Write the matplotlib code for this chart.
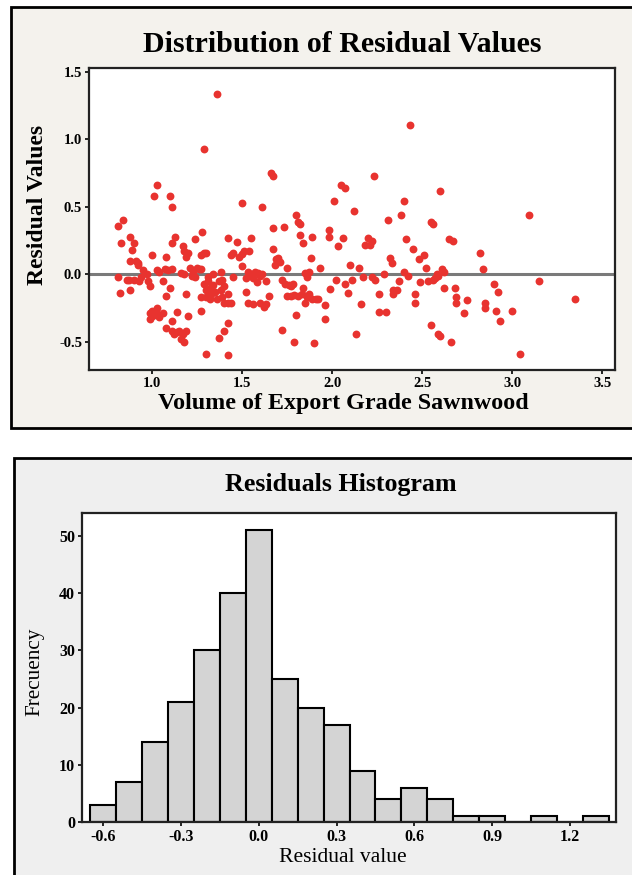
import matplotlib
matplotlib.use("Agg")
import matplotlib.pyplot as plt
from matplotlib.patches import Rectangle

plt.rcParams['font.family'] = ['Liberation Serif', 'DejaVu Serif']

# --- scatter: volume vs residual ---
volume = [
    0.81, 0.84, 0.83, 0.88, 0.90, 0.89, 0.88, 0.91, 0.92, 0.81, 0.87, 0.90, 0.93, 0.82, 0.88, 0.97, 1.00, 0.98, 0.99, 1.00,
    1.01, 0.99, 1.03, 1.01, 1.03, 1.10, 1.11, 1.04, 1.06, 1.08, 1.08, 1.10, 1.07, 1.11, 1.11, 1.13, 1.06, 1.08, 1.11, 1.11,
    1.14, 1.17, 1.18, 1.19, 1.20, 1.18, 1.19, 1.20, 1.17, 1.18, 1.15, 1.19, 1.24, 1.23, 1.24, 1.25, 1.27, 1.28, 1.29, 1.30,
    1.27, 1.27, 1.27, 1.29, 1.36, 1.29, 1.30, 1.32, 1.31, 1.30, 1.33, 1.34, 1.37, 1.38, 1.38, 1.32, 1.39, 1.40, 1.42, 1.44,
    1.37, 1.40, 1.42, 1.30, 1.42, 1.42, 1.44, 1.45, 1.47, 1.48, 1.50, 1.50, 1.51, 1.52, 1.54, 1.55, 1.53, 1.56, 1.53, 1.55,
    1.58, 1.61, 1.60, 1.62, 1.63, 1.61, 1.63, 1.65, 1.66, 1.67, 1.67, 1.67, 1.69, 1.70, 1.68, 1.72, 1.73, 1.72, 1.75, 1.75,
    1.76, 1.78, 1.79, 1.80, 1.81, 1.82, 1.82, 1.81, 1.80, 1.84, 1.85, 1.86, 1.84, 1.85, 1.88, 1.89, 1.87, 1.89, 1.90, 1.92,
    1.93, 1.96, 1.96, 1.98, 1.98, 1.99, 2.01, 2.02, 2.03, 2.05, 2.07, 2.06, 2.07, 2.09, 2.10, 2.12, 2.11, 2.13, 2.15, 2.16,
    2.17, 2.18, 2.20, 2.21, 2.23, 2.22, 2.24, 2.26, 2.26, 2.29, 2.30, 2.31, 2.32, 2.33, 2.34, 2.36, 2.37, 2.38, 2.40, 2.41,
    2.40, 2.42, 2.43, 2.45, 2.46, 2.46, 2.48, 2.49, 2.51, 2.52, 2.55, 2.55, 2.56, 2.56, 2.58, 2.59, 2.60, 2.60, 2.61, 2.62,
    2.65, 2.67, 2.66, 2.68, 2.69, 2.69, 2.73, 2.75, 2.82, 2.84, 2.85, 2.85, 2.90, 2.92, 2.91, 2.93, 3.00, 3.04, 3.09, 3.15,
    3.35,
    1.00, 1.02, 0.99, 1.04, 1.12, 1.14, 1.16, 0.95, 0.86, 0.92, 1.03, 1.09, 1.16, 1.22, 1.33, 1.35, 1.40, 1.36, 1.42, 1.31,
    1.39, 1.34, 1.57, 1.52, 1.77, 1.79, 1.83, 1.86, 1.91, 1.56, 1.59, 1.60, 1.74, 1.77, 1.87, 1.71, 1.45, 1.50, 2.22, 2.34,
    2.53, 2.57, 2.59, 2.62, 1.26, 1.21, 0.94,
]
residual = [
    0.36, 0.40, 0.23, 0.28, 0.23, 0.18, 0.10, 0.10, 0.07, -0.02, -0.04, -0.04, -0.05, -0.14, -0.12, 0.00, 0.145, -0.05, -0.09, -0.27,
    -0.30, -0.29, -0.25, 0.58, 0.66, 0.58, 0.50, 0.02, -0.05, -0.16, 0.13, -0.10, 0.04, 0.04, 0.23, 0.28, -0.29, -0.40, -0.35, -0.42,
    -0.28, 0.21, 0.17, 0.13, 0.16, 0.00, -0.145, -0.31, -0.44, -0.50, -0.42, -0.42, 0.26, 0.02, -0.02, 0.05, 0.145, 0.31, 0.16, 0.16,
    0.04, -0.17, -0.27, 0.93, 1.34, -0.07, -0.12, -0.10, -0.05, -0.17, -0.145, -0.08, -0.05, -0.12, 0.02, -0.18, -0.17, -0.21, -0.21, -0.21,
    -0.47, -0.42, -0.36, -0.59, -0.60, 0.27, 0.145, -0.02, 0.24, 0.13, 0.06, 0.53, 0.17, -0.13, 0.17, 0.27, -0.21, -0.22, 0.02, 0.00,
    -0.06, 0.50, -0.21, -0.24, -0.22, 0.00, -0.05, -0.16, 0.75, 0.73, 0.34, 0.19, 0.11, 0.12, 0.07, -0.04, 0.35, -0.41, 0.05, -0.16,
    -0.08, -0.07, -0.50, 0.44, 0.39, 0.37, 0.29, -0.16, -0.30, 0.23, 0.01, -0.02, -0.10, -0.21, 0.12, 0.28, -0.145, -0.18, -0.51, -0.18,
    0.05, -0.23, -0.33, 0.33, 0.28, -0.11, 0.545, -0.04, 0.21, 0.665, 0.64, 0.27, -0.07, -0.14, 0.07, 0.47, -0.04, -0.44, 0.05, -0.22,
    -0.02, 0.22, 0.27, 0.22, 0.73, -0.02, -0.04, -0.145, -0.28, 0.00, -0.28, 0.40, 0.12, 0.085, -0.145, -0.12, -0.05, 0.44, 0.545, 0.26,
    0.02, -0.01, 1.11, 0.19, -0.145, -0.21, 0.11, -0.06, 0.145, 0.05, -0.375, 0.39, 0.375, -0.04, 0.00, -0.44, -0.455, 0.62, 0.04, -0.10,
    0.26, 0.25, -0.50, -0.10, -0.17, -0.21, -0.29, -0.19, 0.16, 0.04, -0.21, -0.25, -0.07, -0.13, -0.27, -0.35, -0.27, -0.59, 0.44, -0.05,
    -0.18,
    -0.31, -0.28, -0.33, -0.32, -0.44, -0.43, -0.48, 0.03, -0.04, 0.08, 0.03, 0.03, 0.01, -0.01, -0.10, -0.13, -0.09, -0.18, -0.15, -0.02,
    -0.04, 0.00, 0.02, -0.03, -0.16, -0.155, -0.15, -0.17, -0.18, -0.03, 0.01, -0.01, -0.07, -0.09, 0.02, 0.09, 0.16, 0.15, 0.25, -0.12,
    -0.05, -0.03, -0.01, 0.02, 0.04, 0.05, -0.02,
]

# --- histogram of residuals (bin centers, width 0.1) ---
bin_centers = [-0.6, -0.5, -0.4, -0.3, -0.2, -0.1, 0.0, 0.1, 0.2, 0.3,
               0.4, 0.5, 0.6, 0.7, 0.8, 0.9, 1.0, 1.1, 1.2, 1.3]
counts = [3, 7, 14, 21, 30, 40, 51, 25, 20, 17,
          9, 4, 6, 4, 1, 1, 0, 1, 0, 1]

scatter_xticks = [1.0, 1.5, 2.0, 2.5, 3.0, 3.5]
scatter_yticks = [-0.5, 0.0, 0.5, 1.0, 1.5]
hist_xticks = [-0.6, -0.3, 0.0, 0.3, 0.6, 0.9, 1.2]
hist_yticks = [0, 10, 20, 30, 40, 50]

W, H = 632, 875
fig = plt.figure(figsize=(W / 100, H / 100), dpi=100)
fig.patch.set_facecolor('white')

def fx(px):
    return px / W

def fy(py):
    return 1 - py / H

# panel backgrounds / frames (behind the axes)
fig.patches.append(Rectangle((fx(11), fy(428)), 1.05, fy(7) - fy(428),
                             transform=fig.transFigure, facecolor='#f4f2ed',
                             edgecolor='black', lw=2, zorder=-5))
fig.patches.append(Rectangle((fx(14), -0.05), 1.05, fy(458) + 0.05,
                             transform=fig.transFigure, facecolor='#efefef',
                             edgecolor='black', lw=2, zorder=-5))

# ---------- top: scatter ----------
ax1 = fig.add_axes([fx(89), fy(370), fx(615) - fx(89), fy(68) - fy(370)])
ax1.set_facecolor('white')
ax1.scatter(volume, residual, s=32, color='#e8332f', marker='o', linewidths=0, zorder=3)
ax1.axhline(0, color='#7a7a7a', lw=2.2, zorder=2)
ax1.set_xlim(0.65, 3.57)
ax1.set_ylim(-0.71, 1.53)
ax1.set_xticks(scatter_xticks)
ax1.set_xticklabels([f"{v:.1f}" for v in scatter_xticks])
ax1.set_yticks(scatter_yticks)
ax1.set_yticklabels([f"{v:.1f}" for v in scatter_yticks])
for sp in ax1.spines.values():
    sp.set_linewidth(1.6)
    sp.set_color('#222222')
ax1.tick_params(direction='out', length=3, width=1.2, labelsize=10.5, pad=2)
for lab in ax1.get_xticklabels() + ax1.get_yticklabels():
    lab.set_fontweight('bold')
fig.text(fx(342), fy(45), "Distribution of Residual Values", ha='center', va='center',
         fontsize=21.5, fontweight='bold')
fig.text(fx(343), fy(403), "Volume of Export Grade Sawnwood", ha='center', va='center',
         fontsize=17.3, fontweight='bold')
fig.text(fx(38), fy(205), "Residual Values", ha='center', va='center', rotation=90,
         fontsize=17, fontweight='bold')

# ---------- bottom: histogram ----------
ax2 = fig.add_axes([fx(82), fy(822), fx(616) - fx(82), fy(513) - fy(822)])
ax2.set_facecolor('white')
ax2.bar(bin_centers, counts, width=0.1, color='#d4d4d4', edgecolor='black', lw=1.5, zorder=2)
ax2.set_xlim(-0.682, 1.378)
ax2.set_ylim(0, 54)
ax2.set_xticks(hist_xticks)
ax2.set_xticklabels([f"{v:.1f}" for v in hist_xticks])
ax2.set_yticks(hist_yticks)
for sp in ax2.spines.values():
    sp.set_linewidth(1.6)
    sp.set_color('#222222')
ax2.tick_params(direction='out', length=3, width=1.2, labelsize=11.5, pad=2)
for lab in ax2.get_xticklabels() + ax2.get_yticklabels():
    lab.set_fontweight('bold')
fig.text(fx(341), fy(485), "Residuals Histogram", ha='center', va='center',
         fontsize=18.7, fontweight='bold')
fig.text(fx(343), fy(858), "Residual value", ha='center', va='center', fontsize=15.6)
fig.text(fx(35), fy(672), "Frecuency", ha='center', va='center', rotation=90, fontsize=15.3)

fig.savefig("out.png", dpi=100)
